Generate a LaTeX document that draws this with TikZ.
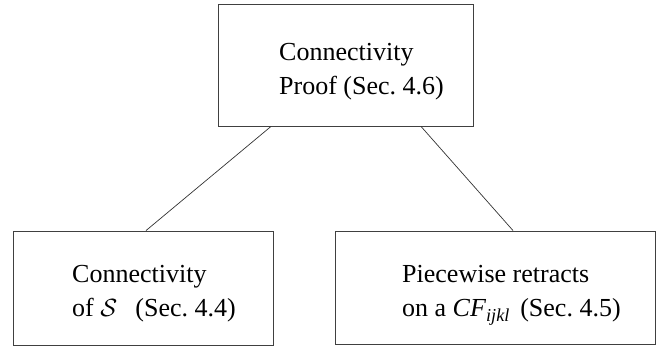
\documentclass[tikz,border=0pt]{standalone}
\usepackage{fontspec}
\setmainfont{Liberation Serif}
\usepackage{amsmath}
\usepackage{amssymb}

\begin{document}
\begin{tikzpicture}[x=1pt, y=1pt,
  box/.style = {draw=black!75, line width=0.9pt, inner sep=0pt},
  txt/.style = {align=left, anchor=base west, inner sep=0pt,
    font=\fontsize{26}{34}\selectfont}]
\useasboundingbox (0,0) rectangle (660,347);
%\node[parameter] (nodeID) at (x,y) {label};
\node[box, minimum width=255, minimum height=122] (proof) at (345.5,282) {};
\node[box, minimum width=260, minimum height=114] (conn) at (143,59) {};
\node[box, minimum width=320, minimum height=113] (retr) at (495,59.5) {};
\node[txt] (prooftxt) at (279,252) {Connectivity\\Proof (Sec.~4.6)};
\node[txt] (conntxt) at (72,30) {Connectivity\\of $\mathcal{S}$\hspace{0.45em} (Sec.~4.4)};
\node[txt] (retrtxt) at (402,30) {Piecewise retracts\\on a \textit{CF}\textsubscript{\textit{ijkl}}\hspace{0.15em} (Sec.~4.5)};
\draw[black!80, line width=0.7pt] ([xshift=-74.5pt]proof.south) -- ([xshift=3pt]conn.north);
\draw[black!80, line width=0.7pt] ([xshift=75.5pt]proof.south) -- ([xshift=18pt]retr.north);
\end{tikzpicture}
\end{document}
